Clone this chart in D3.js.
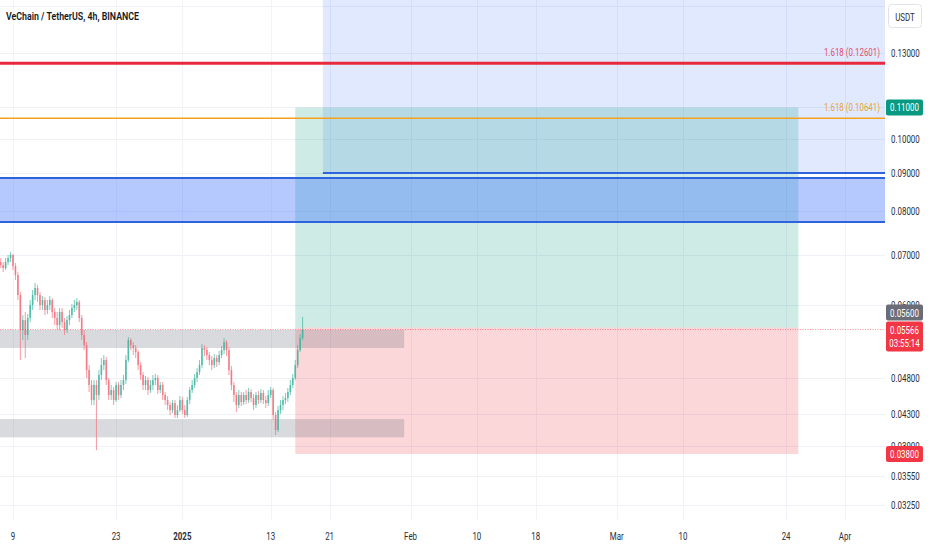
<!DOCTYPE html>
<html><head><meta charset="utf-8">
<script src="https://cdn.jsdelivr.net/npm/d3@7"></script>
<style>html,body{margin:0;padding:0;background:#fff;overflow:hidden}</style>
</head><body><svg id="c" width="932" height="550"></svg>
<script>
// ---------------- DATA ----------------
const title = "VeChain / TetherUS, 4h, BINANCE";
const candleStart = "2024-12-07T08:00:00Z";
const candleHours = 8;
// [open, high, low, close]
const ohlc = [
[0.06847,0.06932,0.06723,0.06785],[0.06785,0.06847,0.06641,0.06723],[0.06723,0.06932,0.06682,0.06847],[0.06847,0.06997,0.06785,0.06932],
[0.06932,0.07059,0.06847,0.06997],[0.06997,0.07020,0.06682,0.06764],[0.06764,0.06826,0.06480,0.06580],[0.06580,0.06641,0.06094,0.06188],
[0.06188,0.06245,0.05070,0.05558],[0.05558,0.05820,0.05390,0.05731],[0.05731,0.05874,0.05101,0.05474],[0.05474,0.05838,0.05390,0.05767],
[0.05767,0.06094,0.05696,0.06001],[0.06001,0.06284,0.05910,0.06188],[0.06188,0.06421,0.06094,0.06323],[0.06323,0.06381,0.06057,0.06188],
[0.06188,0.06245,0.05910,0.06001],[0.06001,0.06169,0.05910,0.06094],[0.06094,0.06150,0.05820,0.05910],[0.05910,0.06094,0.05838,0.06001],
[0.06001,0.06169,0.05910,0.06094],[0.06094,0.06131,0.05767,0.05874],[0.05874,0.05946,0.05644,0.05767],[0.05767,0.05874,0.05558,0.05644],
[0.05644,0.05946,0.05558,0.05874],[0.05874,0.05946,0.05592,0.05696],[0.05696,0.05767,0.05474,0.05558],[0.05558,0.05802,0.05507,0.05731],
[0.05731,0.05910,0.05644,0.05820],[0.05820,0.06020,0.05767,0.05946],[0.05946,0.06094,0.05874,0.06001],[0.06001,0.06131,0.05910,0.06057],
[0.06057,0.06094,0.05696,0.05767],[0.05767,0.05820,0.05390,0.05474],[0.05474,0.05558,0.05227,0.05308],[0.05308,0.05357,0.04798,0.04916],
[0.04916,0.04992,0.04596,0.04696],[0.04696,0.04768,0.04416,0.04484],[0.04484,0.04768,0.04416,0.04696],[0.04696,0.04768,0.03846,0.04554],
[0.04554,0.04916,0.04484,0.04842],[0.04842,0.05101,0.04768,0.04992],[0.04992,0.05148,0.04916,0.05070],[0.05070,0.05117,0.04696,0.04768],
[0.04768,0.04798,0.04484,0.04554],[0.04554,0.04696,0.04484,0.04624],[0.04624,0.04667,0.04416,0.04484],[0.04484,0.04739,0.04457,0.04696],
[0.04696,0.04739,0.04484,0.04554],[0.04554,0.04768,0.04512,0.04696],[0.04696,0.04842,0.04624,0.04768],[0.04768,0.05148,0.04710,0.05070],
[0.05070,0.05440,0.05039,0.05390],[0.05390,0.05423,0.05227,0.05308],[0.05308,0.05357,0.05148,0.05259],[0.05259,0.05308,0.05101,0.05195],
[0.05195,0.05227,0.04916,0.04992],[0.04992,0.05039,0.04768,0.04842],[0.04842,0.04886,0.04624,0.04696],[0.04696,0.04827,0.04624,0.04768],
[0.04768,0.04813,0.04554,0.04624],[0.04624,0.04768,0.04582,0.04696],[0.04696,0.04842,0.04624,0.04768],[0.04768,0.04857,0.04696,0.04798],
[0.04798,0.04842,0.04568,0.04624],[0.04624,0.04739,0.04582,0.04696],[0.04696,0.04739,0.04484,0.04554],[0.04554,0.04596,0.04416,0.04484],
[0.04484,0.04540,0.04349,0.04416],[0.04416,0.04457,0.04283,0.04349],[0.04349,0.04484,0.04309,0.04443],[0.04443,0.04484,0.04244,0.04283],
[0.04283,0.04416,0.04244,0.04349],[0.04349,0.04540,0.04322,0.04484],[0.04484,0.04526,0.04296,0.04349],[0.04349,0.04416,0.04244,0.04283],
[0.04283,0.04526,0.04257,0.04484],[0.04484,0.04667,0.04430,0.04624],[0.04624,0.04768,0.04582,0.04696],[0.04696,0.04857,0.04653,0.04798],
[0.04798,0.04946,0.04739,0.04886],[0.04886,0.05070,0.04842,0.04992],[0.04992,0.05324,0.04946,0.05259],[0.05259,0.05308,0.05132,0.05227],
[0.05227,0.05276,0.05070,0.05148],[0.05148,0.05195,0.04992,0.05070],[0.05070,0.05132,0.04916,0.04992],[0.04992,0.05164,0.04946,0.05101],
[0.05101,0.05148,0.04962,0.05039],[0.05039,0.05211,0.04992,0.05148],[0.05148,0.05292,0.05101,0.05227],[0.05227,0.05423,0.05164,0.05357],
[0.05357,0.05390,0.05132,0.05227],[0.05227,0.05276,0.04842,0.04916],[0.04916,0.04977,0.04624,0.04696],[0.04696,0.04739,0.04457,0.04554],
[0.04554,0.04596,0.04322,0.04416],[0.04416,0.04624,0.04376,0.04554],[0.04554,0.04596,0.04403,0.04457],[0.04457,0.04596,0.04416,0.04554],
[0.04554,0.04624,0.04430,0.04484],[0.04484,0.04653,0.04443,0.04596],[0.04596,0.04638,0.04457,0.04512],[0.04512,0.04568,0.04349,0.04416],
[0.04416,0.04596,0.04376,0.04554],[0.04554,0.04610,0.04430,0.04484],[0.04484,0.04638,0.04443,0.04582],[0.04582,0.04624,0.04430,0.04484],
[0.04484,0.04540,0.04376,0.04443],[0.04443,0.04624,0.04403,0.04554],[0.04554,0.04667,0.04512,0.04624],[0.04624,0.04653,0.04218,0.04283],
[0.04283,0.04322,0.04028,0.04090],[0.04090,0.04403,0.04065,0.04349],[0.04349,0.04484,0.04296,0.04416],[0.04416,0.04540,0.04349,0.04484],
[0.04484,0.04582,0.04430,0.04512],[0.04512,0.04653,0.04457,0.04596],[0.04596,0.04768,0.04554,0.04696],[0.04696,0.04857,0.04653,0.04798],
[0.04798,0.05070,0.04768,0.04992],[0.04992,0.05308,0.04946,0.05227],[0.05227,0.05491,0.05195,0.05423],[0.05423,0.05784,0.05390,0.05566]
];
const priceTicks = [0.15,0.13,0.11,0.10,0.09,0.08,0.07,0.06,0.048,0.043,0.039,0.0355,0.0325];
const hiddenPriceLabels = [0.15,0.11];
const timeTicks = ["2024-12-09","2024-12-23","2025-01-01","2025-01-13","2025-01-21","2025-02-01","2025-02-10","2025-02-18","2025-03-01","2025-03-10","2025-03-24","2025-04-01"];
const timeLabels = ["9","23","2025","13","21","Feb","10","18","Mar","10","24","Apr"];
const fibValues = [0.12601, 0.10641];
const fibLabels = ["1.618 (0.12601)", "1.618 (0.10641)"];
const position = {entry:0.056, target:0.11, stop:0.038, start:"2025-01-16T08:00:00Z", end:"2025-03-25T16:00:00Z"};
const blueBand = [0.0774, 0.0886];
const blueLineValue = 0.09;
const blueZoneStart = "2025-01-20T02:00:00Z";
const grayBoxes = [[0.0526,0.0556],[0.0400,0.0423]];
const grayBoxStart = "2024-12-01T00:00:00Z", grayBoxEnd = "2025-01-31T03:00:00Z";
const lastPrice = 0.05566;
const countdown = "03:55:14";

// ---------------- LAYOUT ----------------
const W = 932, H = 550, plotR = 885, plotB = 520;
const SX = 0.72;
const FONT = "Roboto, 'Noto Sans', sans-serif";
const svg = d3.select("#c");
const x = d3.scaleUtc().domain([new Date("2024-12-09T00:00:00Z"), new Date("2025-04-01T00:00:00Z")]).range([13, 845]);
const y = d3.scaleLog().domain([0.03104, 0.15295]).range([plotB, 0]);

svg.append("defs").append("clipPath").attr("id","plot").append("rect").attr("x",0).attr("y",0).attr("width",plotR).attr("height",plotB);
const plot = svg.append("g").attr("clip-path","url(#plot)");

// grid
plot.selectAll(".hg").data(priceTicks).join("line")
  .attr("x1",0).attr("x2",plotR).attr("y1",d=>Math.round(y(d))+0.5).attr("y2",d=>Math.round(y(d))+0.5)
  .attr("stroke","#eef1f6").attr("stroke-width",1);
plot.selectAll(".vg").data(timeTicks).join("line")
  .attr("y1",0).attr("y2",plotB).attr("x1",d=>Math.round(x(new Date(d+"T00:00:00Z")))+0.5).attr("x2",d=>Math.round(x(new Date(d+"T00:00:00Z")))+0.5)
  .attr("stroke","#f1f3f8").attr("stroke-width",1);

// light blue zone
const bz0 = x(new Date(blueZoneStart));
plot.append("rect").attr("x",bz0).attr("y",0).attr("width",plotR-bz0).attr("height",y(blueLineValue))
  .attr("fill","rgba(41,98,255,0.14)");

// position zones
const px0 = x(new Date(position.start)), px1 = x(new Date(position.end));
plot.append("rect").attr("x",px0).attr("width",px1-px0).attr("y",y(position.target)).attr("height",y(position.entry)-y(position.target))
  .attr("fill","rgba(8,153,129,0.2)");
plot.append("rect").attr("x",px0).attr("width",px1-px0).attr("y",y(position.entry)).attr("height",y(position.stop)-y(position.entry))
  .attr("fill","rgba(242,54,69,0.2)");

// blue band
plot.append("rect").attr("x",0).attr("width",plotR).attr("y",y(blueBand[1])).attr("height",y(blueBand[0])-y(blueBand[1]))
  .attr("fill","rgba(41,98,255,0.34)");
plot.selectAll(".bl").data(blueBand).join("line").attr("x1",0).attr("x2",plotR)
  .attr("y1",d=>y(d)).attr("y2",d=>y(d)).attr("stroke","#2f62dd").attr("stroke-width",2);
plot.append("line").attr("x1",bz0).attr("x2",plotR).attr("y1",y(blueLineValue)).attr("y2",y(blueLineValue))
  .attr("stroke","#2f62dd").attr("stroke-width",2);

// gray boxes
const gx0 = x(new Date(grayBoxStart)), gx1 = x(new Date(grayBoxEnd));
plot.selectAll(".gb").data(grayBoxes).join("rect").attr("x",gx0).attr("width",gx1-gx0)
  .attr("y",d=>y(d[1])).attr("height",d=>y(d[0])-y(d[1])).attr("fill","rgba(120,123,134,0.28)");

// candles
const t0 = new Date(candleStart).getTime();
const up = "#3bb39d", dn = "#f26b78";
const cg = plot.append("g");
ohlc.forEach((d,i)=>{
  const t = new Date(t0 + i*candleHours*3600e3);
  const cx = x(t);
  const col = d[3] >= d[0] ? up : dn;
  cg.append("line").attr("x1",cx).attr("x2",cx).attr("y1",y(d[1])).attr("y2",y(d[2])).attr("stroke",col).attr("stroke-width",0.9).attr("opacity",0.75);
  const top = y(Math.max(d[0],d[3])), bot = y(Math.min(d[0],d[3]));
  cg.append("rect").attr("x",cx-0.85).attr("width",1.7).attr("y",top).attr("height",Math.max(1,bot-top)).attr("fill",col).attr("opacity",0.75);
});

// current price line
plot.append("line").attr("x1",0).attr("x2",plotR).attr("y1",y(lastPrice)).attr("y2",y(lastPrice))
  .attr("stroke","#f23645").attr("stroke-opacity",0.55).attr("stroke-dasharray","1,1.5").attr("stroke-width",1);

// fib lines
const fibCols = ["#e8283c","#f5a11c"], fibW = [3,1.5], fibText = ["#e25070","#e8a53a"];
plot.selectAll(".fl").data(fibValues).join("line").attr("x1",0).attr("x2",plotR)
  .attr("y1",d=>y(d)).attr("y2",d=>y(d)).attr("stroke",(d,i)=>fibCols[i]).attr("stroke-width",(d,i)=>fibW[i]);

function label(g, px, py, str, opt={}){
  return g.append("text").attr("transform",`translate(${px},${py}) scale(${opt.sx||SX},1)`)
    .attr("text-anchor",opt.anchor||"start").attr("dominant-baseline","central")
    .attr("font-family",FONT).attr("font-size",opt.size||11).attr("font-weight",opt.weight||400)
    .attr("fill",opt.fill||"#2a2e39").text(str);
}
fibValues.forEach((v,i)=> label(svg, 880, y(v)-11, fibLabels[i], {anchor:"end", fill:fibText[i]}));

// price axis
const yAxis = d3.axisRight(y).tickValues(priceTicks.filter(v=>!hiddenPriceLabels.includes(v)))
  .tickFormat(d3.format(".5f")).tickSize(0).tickPadding(0);
const ya = svg.append("g").attr("transform",`translate(${plotR},0)`).call(yAxis);
ya.select(".domain").remove();
ya.selectAll("text").attr("x",6/SX).attr("transform",`scale(${SX},1)`).attr("font-family",FONT).attr("font-size",11).attr("fill","#2a2e39");

// time axis
const xAxis = d3.axisBottom(x).tickValues(timeTicks.map(d=>new Date(d+"T00:00:00Z")))
  .tickFormat((d,i)=>timeLabels[i]).tickSize(0).tickPadding(0);
const xa = svg.append("g").attr("transform",`translate(0,${plotB})`).call(xAxis);
xa.select(".domain").remove();
xa.selectAll("text").attr("y",16).attr("dy","0").attr("dominant-baseline","central").attr("transform",`scale(${SX},1)`)
  .attr("font-family",FONT).attr("font-size",11).attr("fill","#2a2e39")
  .attr("font-weight",(d,i)=>timeLabels[i]==="2025"?700:400);
xa.selectAll(".tick").each(function(d){ d3.select(this).attr("transform",`translate(${x(d)},0)`); });

// badges
function badge(v, cy, h, fill, lines){
  svg.append("rect").attr("x",886).attr("y",cy-h/2).attr("width",37).attr("height",h).attr("rx",2).attr("fill",fill);
  lines.forEach((s,i)=> label(svg, 904.5, cy-h/2+8+i*13, s, {anchor:"middle", fill:"#fff"}));
}
badge(position.target, y(position.target), 16, "#089981", [d3.format(".5f")(position.target)]);
const redTop = y(lastPrice)-8;
badge(position.entry, redTop-9, 16, "#6a6d78", [d3.format(".5f")(position.entry)]);
badge(lastPrice, redTop+15, 30, "#f23645", [d3.format(".5f")(lastPrice), countdown]);
badge(position.stop, y(position.stop), 16, "#f23645", [d3.format(".5f")(position.stop)]);

// USDT box
svg.append("rect").attr("x",888.5).attr("y",4.5).attr("width",33).attr("height",23).attr("rx",3)
  .attr("fill","#fff").attr("stroke","#e0e3eb");
label(svg, 905, 16.5, "USDT", {anchor:"middle"});

// title
svg.append("text").attr("x",6).attr("y",16).attr("dominant-baseline","central")
  .attr("font-family",FONT).attr("font-size",11).attr("font-weight",600).attr("fill","#131722")
  .attr("textLength",133).attr("lengthAdjust","spacingAndGlyphs").text(title);
</script></body></html>
